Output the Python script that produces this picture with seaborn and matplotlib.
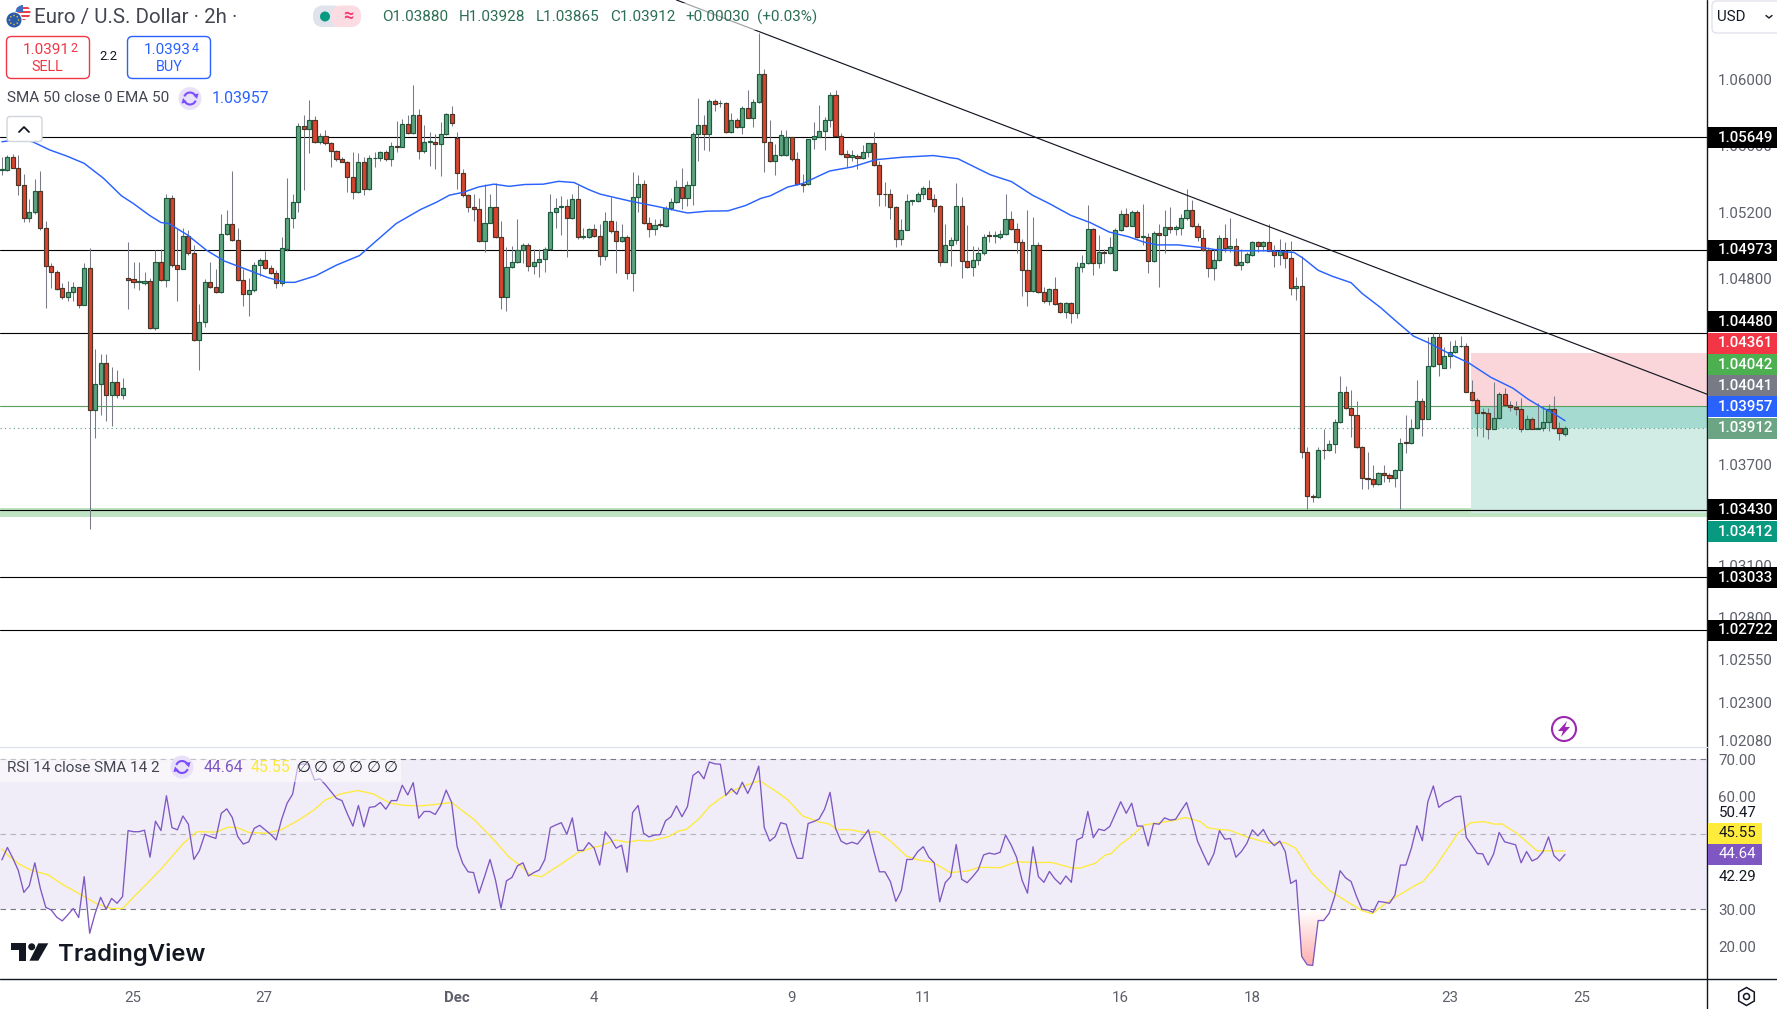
import numpy as np
import pandas as pd
import matplotlib
matplotlib.use('Agg')
import matplotlib.pyplot as plt
from matplotlib.patches import Rectangle, FancyBboxPatch, Circle, Polygon, RegularPolygon, Arc
from matplotlib.ticker import NullLocator, NullFormatter
import seaborn as sns

# EUR/USD 2h candles, prices in points (1.03912 = 103912)
opens = [
    105451,105451,105530,105466,105363,105166,105202,105327,105108,104876,
    104844,104744,104695,104721,104751,104646,104863,104021,104172,104297,
    104110,104189,104110,104804,104798,104783,104778,104791,104506,104900,
    104795,105287,104883,104861,105055,104953,104438,104542,104780,104755,
    104721,105072,105132,105034,104795,104708,104732,104881,104915,104868,
    104834,104774,104978,105166,105261,105719,105702,105755,105623,105655,
    105615,105570,105517,105500,105410,105321,105500,105338,105523,105523,
    105564,105519,105600,105593,105732,105674,105787,105570,105623,105623,
    105608,105668,105793,105644,105434,105302,105232,105219,105027,105138,
    105229,105053,104691,104874,104904,104974,105004,104878,104904,104917,
    104981,105202,105229,105238,105166,105281,105051,105053,105102,105059,
    104936,105149,105089,105027,105049,104838,105291,105370,105136,105102,
    105127,105117,105225,105261,105351,105287,105361,105668,105721,105672,
    105868,105855,105857,105681,105757,105713,105827,105768,105864,106032,
    105623,105506,105542,105542,105649,105517,105370,105370,105638,105653,
    105685,105757,105906,105659,105549,105532,105540,105523,105559,105615,
    105483,105310,105308,105232,105040,105095,105266,105266,105310,105347,
    105278,105238,104904,105006,105036,105238,104908,104874,104915,104953,
    105061,105055,105053,105068,105161,105100,105023,104851,104729,105006,
    104725,104666,104738,104655,104606,104655,104595,104874,104893,105102,
    104893,104963,104953,104855,105093,105191,105119,105198,105051,105053,
    104908,105078,105064,105112,105102,105106,105168,105213,105119,105048,
    104974,104863,104916,105048,104986,104999,104884,104901,104943,105023,
    104995,105023,104969,104946,104969,104923,104744,104757,103771,103514,
    103503,103786,103782,103820,103950,104129,104033,103993,103801,103618,
    103612,103582,103648,103635,103618,103665,103829,103827,103914,104076,
    103969,104284,104452,104271,104340,104363,104399,104403,104129,104080,
    104008,104005,103910,103973,104118,104052,104040,104029,103910,103969,
    103910,103916,103950,104029,103914,103880]
closes = [
    105457,105530,105466,105361,105166,105202,105327,105106,104876,104844,
    104742,104695,104721,104751,104646,104863,104021,104172,104297,104110,
    104189,104110,104148,104793,104785,104785,104791,104506,104900,104795,
    105287,104883,104861,105055,104953,104438,104542,104780,104755,104721,
    105072,105132,105034,104795,104708,104732,104881,104915,104868,104834,
    104774,104983,105166,105261,105719,105702,105755,105623,105655,105615,
    105570,105517,105500,105410,105321,105500,105338,105525,105527,105564,
    105519,105595,105593,105732,105674,105787,105570,105619,105627,105608,
    105668,105793,105738,105434,105302,105232,105219,105027,105138,105229,
    105053,104691,104874,104904,104974,105004,104878,104904,104917,104981,
    105202,105227,105238,105166,105281,105049,105055,105102,105059,104936,
    105149,105085,105027,105049,104838,105291,105370,105136,105102,105123,
    105123,105225,105261,105351,105285,105364,105668,105721,105672,105868,
    105851,105857,105681,105757,105713,105827,105768,105864,106032,105623,
    105506,105542,105661,105649,105517,105368,105366,105638,105655,105685,
    105757,105906,105659,105549,105530,105542,105523,105559,105615,105483,
    105310,105308,105232,105040,105095,105268,105270,105310,105347,105278,
    105238,104904,105006,105036,105238,104908,104874,104915,104953,105053,
    105055,105061,105068,105161,105100,105023,104851,104729,105006,104725,
    104666,104738,104653,104606,104655,104595,104874,104893,105102,104893,
    104963,104953,104989,105093,105191,105119,105198,105049,105055,104908,
    105078,105064,105112,105102,105110,105168,105213,105119,105049,104974,
    104863,104916,105048,104986,104999,104884,104901,104948,105023,104995,
    105023,104969,104946,104969,104923,104744,104757,103771,103514,103503,
    103784,103782,103820,103950,104129,104033,103993,103801,103618,103612,
    103582,103648,103633,103618,103665,103827,103827,103914,104076,103969,
    104284,104452,104295,104340,104363,104399,104403,104129,104080,104005,
    104003,103910,103973,104118,104048,104040,104029,103910,103969,103910,
    103916,103950,104029,103914,103884,103912]
highs = [
    105532,105542,105549,105542,105430,105276,105398,105447,105149,104893,
    104851,104776,104787,104783,104755,104893,104985,104383,104351,104351,
    104276,104255,104212,105021,104904,104904,104840,104808,104972,104978,
    105308,105304,105106,105106,105095,105006,104649,104798,104904,104861,
    105191,105212,105447,105106,104861,104808,104904,104925,104968,104883,
    104851,105053,105408,105308,105734,105787,105872,105776,105676,105691,
    105621,105574,105532,105510,105564,105557,105532,105542,105564,105570,
    105574,105621,105749,105759,105787,105968,105819,105727,105681,105670,
    105744,105798,105840,105681,105457,105308,105308,105287,105372,105308,
    105376,105149,104993,104999,105159,105017,105015,104978,104978,104989,
    105308,105287,105298,105276,105308,105361,105106,105106,105127,105127,
    105202,105291,105149,105127,105064,105442,105425,105391,105174,105159,
    105159,105234,105287,105393,105468,105387,105681,105889,105787,105883,
    105883,105872,105862,105798,105766,105840,105936,105883,106281,106064,
    105755,105610,105691,105691,105653,105559,105432,105642,105744,105847,
    105770,105925,105936,105676,105574,105574,105549,105606,105617,105681,
    105510,105383,105340,105234,105159,105308,105270,105319,105355,105393,
    105308,105244,105127,105053,105378,105291,105123,104999,104989,105068,
    105089,105089,105095,105308,105208,105138,105042,105212,105174,105021,
    104755,104744,104812,104663,104663,104663,104904,104946,105240,105106,
    105064,104978,105053,105106,105212,105227,105212,105212,105251,105074,
    105085,105127,105212,105229,105123,105191,105340,105270,105138,105097,
    104991,104980,105061,105129,105165,105044,104980,104959,105029,105029,
    105029,105129,105001,105037,105023,105029,104810,104937,103803,103522,
    103799,103910,103842,103965,104225,104161,104139,104076,103810,103773,
    103693,103656,103697,103650,103671,103856,103991,103969,104197,104093,
    104454,104476,104476,104395,104433,104437,104459,104416,104197,104093,
    104033,104033,104186,104129,104150,104076,104076,104093,103991,103980,
    104061,104042,104054,104103,103948,103928]
lows = [
    105425,105447,105464,105302,105142,105144,105191,105095,104627,104744,
    104734,104680,104670,104670,104627,104642,103319,103855,103989,103957,
    103925,104089,104085,104621,104744,104734,104766,104500,104495,104791,
    104755,104872,104670,104857,104946,104429,104259,104514,104749,104717,
    104717,105063,105029,104787,104638,104578,104723,104819,104861,104829,
    104749,104761,104968,105106,105202,105330,105553,105617,105610,105606,
    105472,105510,105500,105319,105281,105315,105302,105330,105472,105510,
    105510,105478,105564,105589,105670,105670,105521,105553,105478,105457,
    105415,105664,105719,105340,105291,105202,105149,105021,104963,105134,
    105046,104621,104610,104866,104898,104893,104846,104829,104812,104840,
    104974,105106,105064,104929,105159,105042,105042,105046,105053,104883,
    104915,105074,104834,105021,104802,104729,105202,105132,105053,105064,
    105112,105112,105213,105255,105217,105234,105242,105510,105574,105570,
    105808,105834,105676,105676,105708,105670,105764,105713,105859,105440,
    105500,105425,105538,105538,105510,105366,105323,105366,105578,105649,
    105574,105713,105655,105544,105472,105510,105457,105519,105532,105478,
    105238,105238,105159,104991,105004,105091,105244,105261,105276,105276,
    105202,104878,104900,104876,105010,104808,104868,104819,104883,104946,
    105021,105015,105042,105064,105095,104953,104698,104638,104725,104719,
    104659,104642,104644,104600,104568,104538,104568,104844,104889,104825,
    104868,104893,104949,104846,105089,105112,105115,105046,105004,104836,
    104904,104755,104957,105074,105064,105064,105155,105112,105025,104969,
    104810,104795,104910,104959,104959,104880,104852,104895,104937,104959,
    104965,104965,104874,104884,104863,104703,104676,103735,103437,103476,
    103499,103731,103778,103767,103944,104029,103859,103795,103550,103554,
    103565,103576,103597,103593,103565,103437,103767,103820,103905,103867,
    103965,104278,104220,104267,104267,104357,104395,104125,104076,103867,
    103859,103846,103905,103969,104044,104012,103991,103888,103905,103905,
    103905,103893,103893,103910,103842,103865]

# EMA 50 line, read at these bar positions
ema_pos = [0,2,4,5.6,8.7,11.9,15,18.5,21.8,24,26.9,29,30.4,33.8,37.3,40.5,44.3,48.5,51.6,53.4,
           57.2,61,65.2,68.4,71.9,76.4,79.2,81.6,84.1,86.9,89.7,92.5,95.3,98.7,101.5,104.3,107.1,
           109.1,114.6,119.5,125,128.6,132.4,135.6,138.4,140.1,143.3,146,150.9,155.1,159.3,164.2,
           169.8,174.3,180.2,184.1,187.9,191,194.9,198.4,201.9,205.4,208.2,210.6,214.4,218.5,
           221.2,225.2,230.5,235.6,237.3,240,242.6,246,248,251.4,254,257.4,260.1,264.1,267.5,
           271.5,275.5,278.2,280.9,282.9,285]
ema_vals = [105623,105632,105632,105623,105574,105536,105493,105404,105298,105251,105181,105138,
            105132,105064,104972,104908,104861,104808,104780,104780,104819,104883,104940,105032,
            105132,105217,105259,105302,105319,105351,105368,105355,105366,105368,105385,105378,
            105334,105308,105266,105234,105195,105206,105208,105240,105283,105298,105351,105372,
            105447,105472,105515,105530,105540,105521,105425,105383,105302,105251,105181,105138,
            105081,105053,105021,105004,105004,104989,104976,104969,104969,104959,104923,104852,
            104816,104778,104714,104629,104554,104459,104420,104352,104299,104214,104150,104086,
            104033,104001,103957]

# RSI 14, one value per bar
rsi_vals = [
    43.2,46.5,43.6,40.3,34.5,36.3,42.4,35.6,30.5,29.8,27.9,26.9,28.5,30.2,27.8,38.7,23.6,28.9,33.2,30.0,
    32.9,31.6,33.4,51.0,50.7,50.7,51.1,43.9,53.5,51.0,60.3,51.8,51.2,54.9,52.7,43.3,45.6,50.0,49.4,48.9,
    55.6,56.8,54.5,49.4,47.4,48.0,51.6,52.4,51.2,50.0,48.5,54.0,58.3,60.7,68.5,68.8,68.5,64.5,64.8,63.2,
    61.4,59.6,59.0,55.4,52.2,57.7,52.0,57.2,57.4,58.5,56.7,59.0,59.0,63.1,60.5,63.8,54.3,56.1,56.1,55.3,
    57.7,61.8,58.5,46.7,42.3,40.0,39.8,34.3,38.7,43.3,37.8,30.3,37.6,38.5,41.6,42.4,38.9,39.8,40.5,43.3,
    51.8,52.5,53.1,50.0,54.4,45.7,45.7,47.8,46.3,41.8,
    50.7,48.8,46.3,47.1,39.9,55.8,57.7,50.3,49.3,49.8,49.9,53.6,54.7,57.6,54.7,57.4,65.7,66.8,64.8,69.3,
    68.8,68.7,60.4,62.2,60.7,63.9,60.9,64.1,68.2,51.8,48.2,49.4,53.1,52.7,47.6,43.6,43.6,52.9,53.4,54.1,
    56.7,61.2,51.6,48.2,47.4,47.9,47.4,49.2,51.2,45.4,40.0,40.0,37.4,32.1,35.0,43.3,43.3,45.4,46.7,43.9,
    42.4,32.0,37.1,38.7,47.3,38.0,37.1,38.7,40.5,44.5,45.0,44.7,45.2,49.8,47.2,43.9,37.8,34.3,46.7,38.7,
    37.2,40.1,38.1,36.7,38.9,37.2,48.5,49.2,56.1,49.1,51.4,51.0,52.1,55.4,58.7,55.6,58.3,52.2,52.2,46.9,
    52.9,52.7,54.4,53.8,54.0,56.3,58.5,53.8,48.2,
    44.9,41.8,44.9,51.0,48.7,48.9,43.9,45.4,47.6,51.2,49.6,51.3,48.5,47.0,48.2,45.4,36.9,37.8,17.4,15.2,
    15.0,27.0,27.0,28.9,33.4,40.3,38.4,37.4,33.4,30.0,29.8,29.2,32.1,31.9,31.6,33.8,41.8,41.8,46.3,52.3,
    48.3,58.7,62.9,57.2,58.4,59.0,60.0,60.2,49.2,47.1,44.9,44.8,41.8,44.8,50.5,48.0,47.6,47.2,42.4,45.4,
    42.9,43.6,45.4,49.3,44.3,42.9,44.64]

# SMA 14 of the RSI
rsi_sma_pos = [0,1,3.1,5.2,8.4,11.2,14.3,17.1,19.9,22,24.1,27.2,29,30.7,33.1,35.6,39.1,41.2,42.9,45,48.2,
               50.9,54.1,56.9,59,61.8,64.9,67.7,70.8,73.6,76.4,79.2,82,86.2,89.7,92.5,94.6,96.3,98.4,
               102.2,105,107.8,109.1,111.9,114,116,118.1,121.6,123.4,124.8,127.2,129,131,133.5,135.9,
               138.2,141.2,143.3,146,148.8,150.9,152.3,154.8,157.2,159.7,162.1,164.9,167,169.8,172.9,
               176.1,178.1,182,185.1,187.9,191.4,195.2,196.6,199.4,201.2,202.2,204,205.4,208.2,211.6,
               213.7,215.8,218.5,219.8,221.8,223.8,227.2,231.2,233.9,235.9,238.9,242,245.3,247.8,249.8,
               252.7,258.1,259.1,261.4,265.5,267.8,270.2,272.2,273.5,276.2,279.9,281.9,285]
rsi_sma_vals = [46.1,44.5,42.1,40.5,39.2,36.5,34.0,31.6,30.2,30.2,33.4,38.0,40.7,43.6,47.6,50.7,50.6,51.9,
                51.8,50.5,50.3,51.2,53.8,56.5,59.2,60.8,61.7,60.8,58.3,57.7,57.6,58.0,58.5,53.8,48.5,
                43.9,41.6,39.2,38.7,42.3,45.1,46.5,46.9,48.5,47.9,48.4,48.2,49.4,50.9,51.3,54.3,57.4,
                59.6,61.8,63.2,64.3,61.4,59.2,54.9,53.4,52.7,51.3,51.2,50.5,50.7,48.1,44.2,43.2,42.5,
                39.8,40.2,41.2,41.1,42.7,42.5,42.5,41.0,41.0,42.3,44.5,44.8,47.4,48.8,52.5,53.2,53.7,
                54.5,53.4,51.8,51.3,51.1,49.2,47.6,47.8,46.3,39.6,35.1,32.0,29.8,28.8,32.0,36.7,37.4,
                41.4,50.3,53.1,53.4,52.7,52.8,50.3,45.6,45.6,45.55]

support_lines = [1.05649, 1.04973, 1.04480, 1.03430, 1.03033, 1.02722]
price_ticks = [1.06000, 1.05600, 1.05200, 1.04800, 1.03700, 1.03100, 1.02800, 1.02550, 1.02300, 1.02080]
rsi_ticks = [70, 60, 30, 20]
date_pos = [23.8, 47.8, 83, 108, 144, 168, 204, 228, 264, 288]
date_labels = ['25', '27', 'Dec', '4', '9', '11', '16', '18', '23', '25']

# position tool
stop_price, entry_price, last_price, target_price = 1.04361, 1.04042, 1.03912, 1.03412
zone_start = 267.9
# trend line ends (bar, price)
trend_x = [123, 310.9]
trend_y = [1.0648, 1.04114]

df = pd.DataFrame({'open': opens, 'high': highs, 'low': lows, 'close': closes}) / 1e5
df['pos'] = np.arange(len(df))
df['rsi'] = rsi_vals
ema = pd.DataFrame({'pos': ema_pos, 'val': np.array(ema_vals) / 1e5})
rsi_sma = pd.DataFrame({'pos': rsi_sma_pos, 'val': rsi_sma_vals})

sns.set_theme(style='white')
plt.rcParams['font.family'] = ['Roboto', 'DejaVu Sans']

W, H = 1777, 1009
fig = plt.figure(figsize=(W / 100, H / 100), dpi=100)
axis_x = 1707.0
xlim = (-0.35, 310.9)
ax = fig.add_axes([0, (H - 746) / H, axis_x / W, 746 / H])
ax2 = fig.add_axes([0, (H - 979) / H, axis_x / W, (979 - 747) / H])

# main pane, the price scale is logarithmic
ax.set_yscale('log')
ax.axhspan(1.03388, 1.03438, color='#bde3c2', lw=0, zorder=1)
ax.add_patch(Rectangle((zone_start, entry_price), xlim[1] - zone_start, stop_price - entry_price,
                       fc='#fad6da', ec='none', zorder=1))
ax.add_patch(Rectangle((zone_start, target_price), xlim[1] - zone_start, entry_price - target_price,
                       fc='#cfeae4', ec='none', alpha=0.95, zorder=1.1))
ax.add_patch(Rectangle((zone_start, last_price), xlim[1] - zone_start, entry_price - last_price,
                       fc='#a5dad0', ec='none', zorder=1.2))
for level in support_lines:
    ax.axhline(level, color='#000000', lw=0.8, zorder=2)
ax.axhline(entry_price, color='#5a9f5e', lw=0.8, zorder=2)
ax.axhline(last_price, color='#5a9f7e', lw=0.8, ls=(0, (1, 3)), zorder=2)

up = df['close'] >= df['open']
ax.vlines(df['pos'], df['low'], df['high'], color='#787b86', lw=0.75, zorder=3)
ax.bar(df['pos'], (df['close'] - df['open']).abs().clip(lower=0.00003), bottom=df[['open', 'close']].min(axis=1),
       width=0.75, color=np.where(up, '#5ea37f', '#d9432f'),
       edgecolor=np.where(up, '#1e5b3e', '#4a3527'), linewidth=0.85, zorder=4)
sns.lineplot(data=ema, x='pos', y='val', ax=ax, color='#2962ff', lw=1.05, estimator=None, sort=False, zorder=5)
ax.plot(trend_x, trend_y, color='#131722', lw=0.85, zorder=6)
ax.set_xlim(*xlim)
ax.set_ylim(1.02047, 1.0648)
ax.set_xticks([])
ax.set_xlabel('')
ax.set_ylabel('')
ax.yaxis.tick_right()
ax.yaxis.set_minor_locator(NullLocator())
ax.yaxis.set_minor_formatter(NullFormatter())
ax.set_yticks(price_ticks)
ax.set_yticklabels(['%.5f' % t for t in price_ticks], color='#5d606b', fontsize=10.8)
ax.tick_params(axis='y', length=0, pad=8)
sns.despine(ax=ax, left=True, top=True, bottom=True, right=True)

# RSI pane
ax2.axhspan(30, 70, color='#f0ecf8', lw=0, zorder=1)
ax2.axhline(70, color='#787b86', lw=0.8, ls=(0, (5, 4)), zorder=2)
ax2.axhline(50, color='#b2b5be', lw=0.8, ls=(0, (5, 4)), zorder=2)
ax2.axhline(30, color='#787b86', lw=0.8, ls=(0, (5, 4)), zorder=2)
poly = ax2.fill_between(df['pos'], df['rsi'], 30, where=df['rsi'] < 30, interpolate=True, color='none', zorder=2)
deepest = min(poly.get_paths(), key=lambda p: p.vertices[:, 1].min())
grad = np.ones((64, 2, 4))
grad[:, :, 1] = 0.68
grad[:, :, 2] = 0.68
grad[:, :, 3] = np.linspace(1, 0, 64)[:, None]
low_bar = df.loc[df['rsi'].idxmin(), 'pos']
im = ax2.imshow(grad, extent=[low_bar - 4, low_bar + 5, 15, 30], origin='lower', aspect='auto', zorder=3)
im.set_clip_path(deepest, transform=ax2.transData)
sns.lineplot(data=df, x='pos', y='rsi', ax=ax2, color='#7e57c2', lw=0.95, estimator=None, zorder=5)
sns.lineplot(data=rsi_sma, x='pos', y='val', ax=ax2, color='#ffeb3b', lw=0.95, estimator=None, zorder=4)
ax2.set_xlim(*xlim)
ax2.set_ylim(11.4, 73.3)
ax2.set_xlabel('')
ax2.set_ylabel('')
ax2.yaxis.tick_right()
ax2.set_yticks(rsi_ticks)
ax2.set_yticklabels(['%.2f' % t for t in rsi_ticks], color='#5d606b', fontsize=10.8)
ax2.set_xticks(date_pos)
ax2.set_xticklabels(date_labels, color='#5d606b', fontsize=10.8)
ax2.get_xticklabels()[2].set_fontweight('bold')
ax2.tick_params(axis='both', length=0)
ax2.tick_params(axis='y', pad=8)
ax2.tick_params(axis='x', pad=8.5)
sns.despine(ax=ax2, left=True, top=True, bottom=True, right=True)

# toolbar and labels drawn in pixel space on top
ui = fig.add_axes([0, 0, 1, 1], facecolor='none')
ui.set_xlim(0, W)
ui.set_ylim(H, 0)
ui.axis('off')


def refresh_icon(cx, cy, z=7):
    # the two circling arrows on the indicator legends
    ui.add_patch(Circle((cx, cy), 11.5, fc='#e8e1f8', ec='none', zorder=z))
    for start, end in [(200, 340), (20, 160)]:
        ui.add_patch(Arc((cx, cy), 12, 12, theta1=start, theta2=end, ec='#7c4dff', lw=1.5, zorder=z + 1))
    ui.add_patch(Polygon([(cx + 3, cy - 4), (cx + 8.5, cy - 5), (cx + 7, cy + 0.5)], fc='#7c4dff', ec='none', zorder=z + 1))
    ui.add_patch(Polygon([(cx - 3, cy + 4), (cx - 8.5, cy + 5), (cx - 7, cy - 0.5)], fc='#7c4dff', ec='none', zorder=z + 1))


ui.plot([0, W], [979, 979], color='#131722', lw=1.0)
ui.plot([axis_x, axis_x], [0, H], color='#131722', lw=1.0)
ui.plot([0, axis_x], [746.5, 746.5], color='#e0e3eb', lw=1.0)

# price tags
tags = [(137.5, '1.05649', '#000000'), (250.4, '1.04973', '#000000'), (321.8, '1.04480', '#000000'),
        (343.4, '1.04361', '#f23645'), (364.6, '1.04042', '#4caf50'), (385.7, '1.04041', '#787b86'),
        (406.6, '1.03957', '#2962ff'), (428.3, '1.03912', '#6ba583'), (509.8, '1.03430', '#000000'),
        (531.9, '1.03412', '#089981'), (577.6, '1.03033', '#000000'), (630.5, '1.02722', '#000000')]
for y, label, col in tags:
    ui.add_patch(Rectangle((axis_x + 0.5, y - 10.5), W - axis_x, 21, fc=col, ec='none', zorder=6))
    ui.text(1745.5, y, label, color='white', fontsize=10.8, fontweight='medium', ha='center', va='center', zorder=7)

# RSI tags
for y, label, col, tc in [(833.3, '45.55', '#ffeb3b', '#131722'), (854.5, '44.64', '#7e57c2', 'white')]:
    ui.add_patch(Rectangle((axis_x + 0.5, y - 10.5), 54, 21, fc=col, ec='none', zorder=6))
    ui.text(1737.5, y, label, color=tc, fontsize=10.8, ha='center', va='center', zorder=7)
ui.text(1737.5, 812.7, '50.47', color='#131722', fontsize=10.8, ha='center', va='center')
ui.text(1737.5, 876.7, '42.29', color='#131722', fontsize=10.8, ha='center', va='center')

# header: flags
us = Circle((23, 12.5), 7.5, fc='white', ec='none', zorder=2)
ui.add_patch(us)
for sy in [7, 11, 15, 18.5]:
    stripe = Rectangle((15, sy), 16, 2, fc='#e8404a', ec='none', zorder=2.1)
    ui.add_patch(stripe)
    stripe.set_clip_path(us)
canton = Rectangle((15, 4), 8, 7.5, fc='#3c6fc4', ec='none', zorder=2.2)
ui.add_patch(canton)
canton.set_clip_path(us)
ui.add_patch(Circle((14, 20), 8.5, fc='white', ec='none', zorder=3))
ui.add_patch(Circle((14, 20), 7.5, fc='#2a5ba8', ec='none', zorder=3.1))
for a in np.deg2rad(np.arange(0, 360, 45)):
    ui.add_patch(Circle((14 + 4.5 * np.cos(a), 20 + 4.5 * np.sin(a)), 0.8, fc='#e0c040', ec='none', zorder=3.2))

ui.text(34.5, 17.5, 'Euro / U.S. Dollar · 2h ·', color='#434651', fontsize=14.8, va='center')
ui.add_patch(FancyBboxPatch((313, 5.5), 30, 21.5, boxstyle='round,pad=0,rounding_size=10', fc='#e0e3eb', ec='none'))
ui.add_patch(FancyBboxPatch((331, 5.5), 30, 21.5, boxstyle='round,pad=0,rounding_size=10', fc='#fcdce3', ec='none'))
ui.add_patch(Rectangle((337, 5.5), 6, 21.5, fc='#fcdce3', ec='none'))
ui.add_patch(Circle((325, 16.5), 5, fc='#089981', ec='none'))
ui.text(348, 16, '≈', color='#f23679', fontsize=13, fontweight='bold', ha='center', va='center')
ui.add_patch(Rectangle((376, 3), 445, 27, fc='white', alpha=0.6, ec='none'))
for x, part in [(381.7, 'O1.03880'), (459, 'H1.03928'), (535.6, 'L1.03865'), (610, 'C1.03912'),
                (685, '+0.00030'), (756.6, '(+0.03%)')]:
    ui.text(x, 17, part, color='#2c6e54', fontsize=11, va='center')

ui.add_patch(FancyBboxPatch((6.5, 36.5), 83, 42, boxstyle='round,pad=0,rounding_size=5', fc='white', ec='#f23645', lw=1))
ui.add_patch(FancyBboxPatch((127.5, 36.5), 83, 42, boxstyle='round,pad=0,rounding_size=5', fc='white', ec='#2962ff', lw=1))
ui.text(69.5, 49.5, '1.0391', color='#f23645', fontsize=11, ha='right', va='center')
ui.text(70, 48, '2', color='#f23645', fontsize=9, ha='left', va='center')
ui.text(47.5, 67, 'SELL', color='#f23645', fontsize=10.4, ha='center', va='center')
ui.text(191, 49.5, '1.0393', color='#2962ff', fontsize=11, ha='right', va='center')
ui.text(191.5, 48, '4', color='#2962ff', fontsize=9, ha='left', va='center')
ui.text(169, 67, 'BUY', color='#2962ff', fontsize=10.4, ha='center', va='center')
ui.text(108.5, 57, '2.2', color='#131722', fontsize=9.4, ha='center', va='center')

ui.text(7, 98.5, 'SMA 50 close 0 EMA 50', color='#434651', fontsize=11, va='center')
refresh_icon(190, 98.5, z=5)
ui.text(212, 98.5, '1.03957', color='#2962ff', fontsize=11.4, va='center')
ui.add_patch(FancyBboxPatch((7, 116.5), 35, 25, boxstyle='round,pad=0,rounding_size=3', fc='white', ec='#d1d4dc', lw=1, zorder=5))
ui.plot([19, 24, 29], [132, 127, 132], color='#131722', lw=1.3, zorder=6)

# RSI legend
ui.add_patch(Rectangle((0, 759), 401, 23, fc='white', alpha=0.55, ec='none', zorder=6))
ui.text(7, 767.5, 'RSI 14 close SMA 14 2', color='#434651', fontsize=11, va='center', zorder=7)
refresh_icon(182, 767)
ui.text(204, 767.5, '44.64', color='#7e57c2', fontsize=11.4, va='center', zorder=7)
ui.text(251, 767.5, '45.55', color='#fde93b', fontsize=11.4, va='center', zorder=7)
for x in [304, 321, 339, 356, 374, 391]:
    ui.text(x, 767.5, '∅', color='#131722', fontsize=11.5, ha='center', va='center', zorder=7)

# logo
ui.add_patch(Polygon([(11.3, 943.3), (26, 943.3), (26, 960.7), (19, 960.7), (19, 950), (11.3, 950)], fc='#131722', ec='none'))
ui.add_patch(Circle((31.7, 946.8), 3.5, fc='#131722', ec='none'))
ui.add_patch(Polygon([(38.3, 943.3), (48.3, 943.3), (38.3, 960.7), (29.5, 960.7)], fc='#131722', ec='none'))
ui.text(58, 960.7, 'TradingView', family=['Inter', 'Roboto'], color='#131722', fontsize=17.2, fontweight='semibold', va='baseline')

# lightning button, settings, currency
ui.add_patch(Circle((1564, 729), 12, fc='white', ec='#9c27b0', lw=1.5))
ui.add_patch(Polygon([(1567, 721), (1558, 731), (1563, 731), (1561, 737), (1570, 727), (1565, 727)], fc='#9c27b0', ec='none'))
ui.add_patch(RegularPolygon((1746.5, 996.5), 6, radius=9, orientation=0, fc='white', ec='#131722', lw=1.1))
ui.add_patch(Circle((1746.5, 996.5), 3, fc='white', ec='#131722', lw=1.1))
ui.add_patch(FancyBboxPatch((1712, 1), 80, 32, boxstyle='round,pad=0,rounding_size=5', fc='white', ec='#e0e3eb', lw=1, clip_on=True))
ui.text(1717, 17, 'USD', color='#131722', fontsize=10.8, ha='left', va='center')
ui.plot([1766, 1769, 1772], [15.5, 18, 15.5], color='#131722', lw=1)

fig.savefig('out.png', dpi=100)
